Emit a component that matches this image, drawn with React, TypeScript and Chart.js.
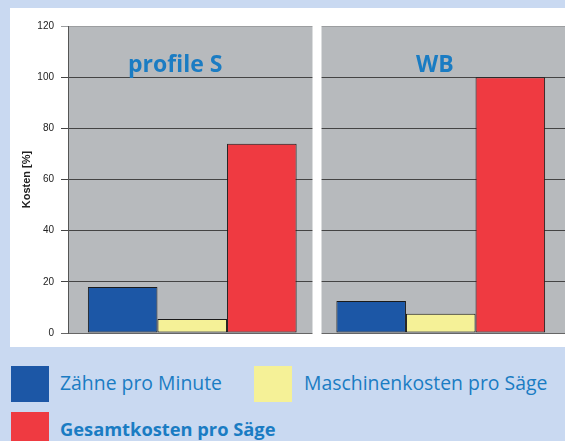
import React, { useEffect, useRef } from "react";
import { Chart, registerables } from "chart.js";

Chart.register(...registerables);

const categories = ["profile S", "WB"];
const zaehneProMinute = [18, 12.5];
const maschinenkostenProSaege = [5.5, 7.5];
const gesamtkostenProSaege = [74, 100];
const seriesNames = ["Zähne pro Minute", "Maschinenkosten pro Säge", "Gesamtkosten pro Säge"];
const yTicks = [0, 20, 40, 60, 80, 100, 120];

const BLUE = "#1c57a6";
const YELLOW = "#f5f197";
const RED = "#ef3a41";
const TEXT_BLUE = "#1a7cc3";
const BG = "#c9d9f1";
const PANEL = "#b7babd";

const panelPlugin = {
  id: "panels",
  beforeDraw(chart: any) {
    const { ctx, chartArea } = chart;
    ctx.save();
    ctx.fillStyle = PANEL;
    ctx.fillRect(chartArea.left, chartArea.top, chartArea.right - chartArea.left, chartArea.bottom - chartArea.top);
    ctx.restore();
  },
  beforeDatasetsDraw(chart: any) {
    const { ctx, chartArea, scales } = chart;
    const x = scales.x;
    ctx.save();
    ctx.fillStyle = "#ffffff";
    for (let i = 0; i < categories.length - 1; i++) {
      const mid = (x.getPixelForValue(i) + x.getPixelForValue(i + 1)) / 2;
      ctx.fillRect(mid - 4, chartArea.top - 1, 9, chartArea.bottom - chartArea.top + 2);
    }
    ctx.restore();
  },
  afterDatasetsDraw(chart: any) {
    const { ctx, chartArea, scales } = chart;
    const x = scales.x;
    const offsets = [-17, -6];
    ctx.save();
    ctx.fillStyle = TEXT_BLUE;
    ctx.font = "bold 23px 'Open Sans'";
    ctx.textAlign = "center";
    ctx.textBaseline = "alphabetic";
    categories.forEach((c, i) => {
      ctx.fillText(c, x.getPixelForValue(i) + offsets[i], chartArea.top + 46);
    });
    ctx.restore();
  },
};

function ChartBox() {
  const ref = useRef<HTMLCanvasElement | null>(null);
  useEffect(() => {
    if (!ref.current) return;
    const chart = new Chart(ref.current, {
      type: "bar",
      data: {
        labels: categories,
        datasets: [
          { label: seriesNames[0], data: zaehneProMinute, backgroundColor: BLUE },
          { label: seriesNames[1], data: maschinenkostenProSaege, backgroundColor: YELLOW },
          { label: seriesNames[2], data: gesamtkostenProSaege, backgroundColor: RED },
        ],
      },
      options: {
        responsive: false,
        animation: false,
        devicePixelRatio: 1,
        layout: { padding: { top: 18, bottom: 14, left: 0, right: 0 } },
        datasets: {
          bar: {
            categoryPercentage: 0.84,
            barPercentage: 1,
            borderColor: "#1a1a1a",
            borderWidth: 1,
            borderSkipped: false,
          },
        },
        plugins: {
          legend: { display: false },
          tooltip: { enabled: false },
        },
        scales: {
          x: {
            type: "category",
            display: false,
          },
          y: {
            min: 0,
            max: 120,
            afterFit(s: any) {
              s.width = 58;
            },
            afterBuildTicks(s: any) {
              s.ticks = yTicks.map((v) => ({ value: v }));
            },
            ticks: {
              padding: 7,
              color: "#222",
              font: { family: "'Liberation Sans', Arial", size: 10 },
            },
            grid: {
              tickLength: 7,
              lineWidth: 1,
              color: (c: any) =>
                c.tick && c.tick.value === 120 ? "#9c9ea0" : c.tick && c.tick.value === 0 ? "#666" : "#444",
            },
            border: { display: true, color: "#555", width: 1 },
            title: {
              display: true,
              text: "Kosten [%]",
              color: "#222",
              font: { family: "'Liberation Sans', Arial", size: 11, weight: "bold" },
              padding: { top: 10, bottom: 0 },
            },
          },
        },
      },
      plugins: [panelPlugin],
    } as any);
    return () => chart.destroy();
  }, []);
  return <canvas ref={ref} width={555} height={339} style={{ display: "block" }} />;
}

const legendItems = [
  { name: seriesNames[0], color: BLUE, left: 11, top: 366, textLeft: 60, bold: false },
  { name: seriesNames[1], color: YELLOW, left: 254, top: 366, textLeft: 304, bold: false },
  { name: seriesNames[2], color: RED, left: 11, top: 412, textLeft: 60, bold: true },
];

export default function App() {
  return (
    <div
      style={{
        position: "absolute",
        left: 0,
        top: 0,
        width: 565,
        height: 441,
        background: BG,
        overflow: "hidden",
        fontFamily: "'Open Sans', sans-serif",
      }}
    >
      <div style={{ position: "absolute", left: 10, top: 8, width: 555, height: 339, background: "#fff" }}>
        <ChartBox />
      </div>
      {legendItems.map((it) => (
        <React.Fragment key={it.name}>
          <div
            style={{
              position: "absolute",
              left: it.left,
              top: it.top,
              width: 38,
              height: 36,
              background: it.color,
            }}
          />
          <div
            style={{
              position: "absolute",
              left: it.textLeft,
              top: it.top + 3,
              height: 28,
              lineHeight: "28px",
              fontSize: it.bold ? 18.3 : 19.4,
              fontWeight: it.bold ? 700 : 400,
              color: TEXT_BLUE,
              whiteSpace: "nowrap",
            }}
          >
            {it.name}
          </div>
        </React.Fragment>
      ))}
    </div>
  );
}
